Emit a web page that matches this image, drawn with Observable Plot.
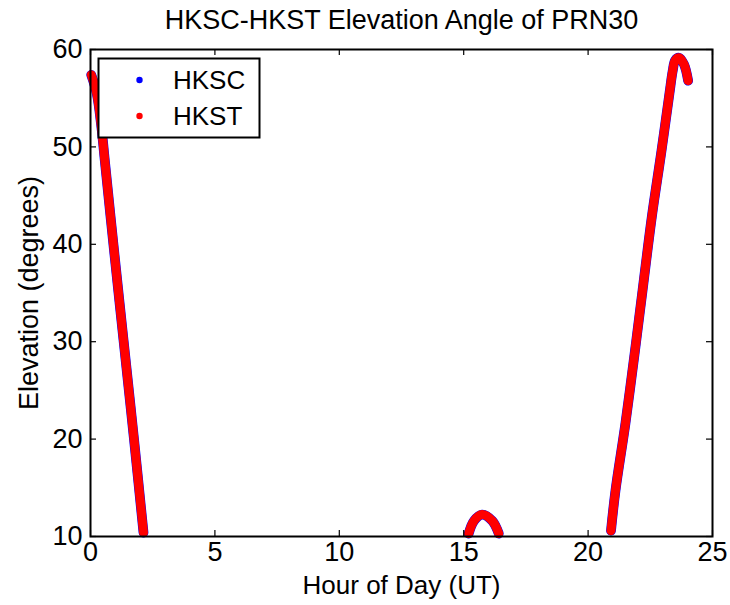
<!DOCTYPE html>
<html>
<head>
<meta charset="utf-8">
<script src="https://cdn.jsdelivr.net/npm/d3@7"></script>
<script src="https://cdn.jsdelivr.net/npm/@observablehq/plot@0.6"></script>
<style>
  html, body { margin: 0; padding: 0; background: #fff; }
  #wrap { position: relative; width: 730px; height: 605px; font-family: "Liberation Sans", Arial, sans-serif; }
  #legend { position: absolute; left: 0; top: 0; }
</style>
</head>
<body>
<div id="wrap"></div>
<script>
// ---- data ----
const titleText = "HKSC-HKST Elevation Angle of PRN30";
const xLabel = "Hour of Day (UT)";
const yLabel = "Elevation (degrees)";
const seriesNames = ["HKSC", "HKST"];
const seriesColors = ["#0000ff", "#ff0000"];
const xTicks = [0, 5, 10, 15, 20, 25];
const yTicks = [10, 20, 30, 40, 50, 60];

// pass 1 (setting after midnight)
const pass1Hour = [0.03, 0.25, 0.44, 0.575, 0.99, 1.33, 1.74, 2.13];
const pass1Elev = [57.4, 55.5, 52.0, 48.6, 38.3, 30.1, 20.2, 10.4];
// pass 2 (low arc mid-afternoon)
const pass2Hour = [15.20, 15.41, 15.74, 16.15, 16.41];
const pass2Elev = [10.3, 11.6, 12.25, 11.6, 10.3];
// pass 3 (rising in the evening)
const pass3Hour = [20.92, 21.10, 21.50, 21.85, 22.19, 22.56, 22.95, 23.27, 23.40, 23.50, 23.65, 23.85, 24.02];
const pass3Elev = [10.6, 14.7, 21.6, 28.4, 35.3, 42.8, 49.6, 55.5, 57.8, 58.9, 59.15, 58.5, 56.8];

const passes = [[pass1Hour, pass1Elev], [pass2Hour, pass2Elev], [pass3Hour, pass3Elev]];
const rows = [];
seriesNames.forEach(s => passes.forEach(([h, e], p) => h.forEach((hv, i) => rows.push({series: s, pass: s + p, hour: hv, elev: e[i]}))));

const W = 730, H = 605, mL = 90, mR = 18, mT = 49, mB = 69;
const pw = W - mL - mR, ph = H - mT - mB;
const fs = 27;

const chart = Plot.plot({
  width: W, height: H,
  marginLeft: mL, marginRight: mR, marginTop: mT, marginBottom: mB,
  style: {fontFamily: '"Liberation Sans", Arial, sans-serif', fontSize: fs + "px", color: "black", background: "white"},
  x: {domain: [0, 25]},
  y: {domain: [10, 60]},
  marks: [
    Plot.line(rows.filter(d => d.series === "HKSC"), {x: "hour", y: "elev", z: "pass", stroke: seriesColors[0], strokeWidth: 9.8, curve: "catmull-rom", strokeLinecap: "round", strokeLinejoin: "round"}),
    Plot.line(rows.filter(d => d.series === "HKST"), {x: "hour", y: "elev", z: "pass", stroke: seriesColors[1], strokeWidth: 9, curve: "catmull-rom", strokeLinecap: "round", strokeLinejoin: "round"}),
    Plot.tickY(yTicks, {y: d => d, stroke: "black", strokeWidth: 1.2, insetRight: pw - 6}),
    Plot.tickY(yTicks, {y: d => d, stroke: "black", strokeWidth: 1.2, insetLeft: pw - 6}),
    Plot.tickX(xTicks, {x: d => d, stroke: "black", strokeWidth: 1.2, insetTop: ph - 6}),
    Plot.tickX(xTicks, {x: d => d, stroke: "black", strokeWidth: 1.2, insetBottom: ph - 6}),
    Plot.axisX(xTicks, {tickSize: 0, tickPadding: 5, fontSize: fs, label: null}),
    Plot.axisY(yTicks, {tickSize: 0, tickPadding: 8, fontSize: fs, label: null}),
    Plot.frame({stroke: "black", strokeWidth: 2}),
    Plot.text([titleText], {frameAnchor: "top", lineAnchor: "middle", dy: -29, fontSize: fs, fill: "black"}),
    Plot.text([xLabel], {frameAnchor: "bottom", lineAnchor: "middle", dy: 49, fontSize: 26, fill: "black"}),
    Plot.text([yLabel], {frameAnchor: "left", textAnchor: "middle", lineAnchor: "middle", dx: -61, rotate: -90, fontSize: fs, fill: "black"})
  ]
});
const wrap = document.getElementById("wrap");
wrap.appendChild(chart);

// legend (overlay box in the top-left of the axes)
const leg = d3.create("svg").attr("id", "legend").attr("width", W).attr("height", H)
  .style("font-family", '"Liberation Sans", Arial, sans-serif');
leg.append("rect").attr("x", 98.5).attr("y", 58.5).attr("width", 161).attr("height", 79)
  .attr("fill", "white").attr("stroke", "black").attr("stroke-width", 2);
seriesNames.forEach((s, i) => {
  const cy = 80 + i * 36;
  leg.append("circle").attr("cx", 139.5).attr("cy", cy).attr("r", 3.2).attr("fill", seriesColors[i]);
  leg.append("text").attr("x", 173).attr("y", cy).attr("dy", "0.36em").attr("font-size", 26).attr("fill", "black").text(s);
});
wrap.appendChild(leg.node());
</script>
</body>
</html>
